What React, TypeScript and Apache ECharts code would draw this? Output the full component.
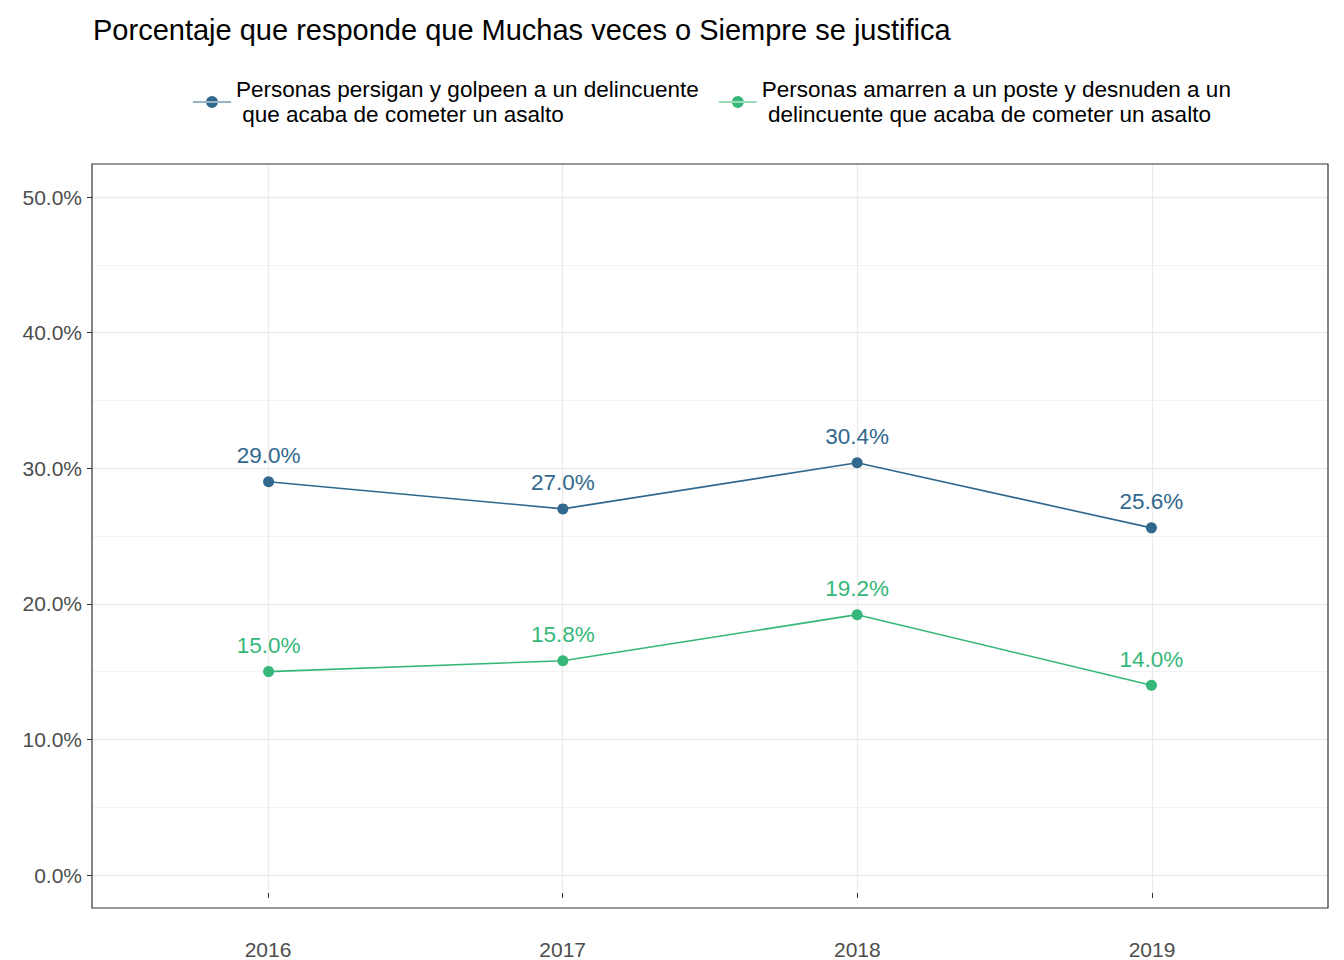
import { useEffect, useRef } from "react";
import * as echarts from "echarts";

const years = [2016, 2017, 2018, 2019];
const golpeen = [29.0, 27.0, 30.4, 25.6];
const amarren = [15.0, 15.8, 19.2, 14.0];
const seriesNames = [
  "Personas persigan y golpeen a un delincuente\n que acaba de cometer un asalto",
  "Personas amarren a un poste y desnuden a un\n delincuente que acaba de cometer un asalto",
];

const BLUE = "#31688e";
const GREEN = "#35b779";
const FONT = "Liberation Sans";
const GRIDLINE = "#ebebeb";

export default function App() {
  const ref = useRef<HTMLDivElement>(null);

  useEffect(() => {
    document.body.style.margin = "0";
    if (!ref.current) return;
    const chart = echarts.init(ref.current, undefined, { renderer: "svg" });

    const mk = (name: string, vals: number[], color: string) => ({
      name,
      type: "line",
      xAxisIndex: 0,
      yAxisIndex: 0,
      data: years.map((y, i) => [y, vals[i]]),
      symbol: "circle",
      symbolSize: 11,
      lineStyle: { color, width: 1.6 },
      itemStyle: { color },
      label: {
        show: true,
        position: "top",
        distance: 9,
        color,
        fontSize: 22.5,
        fontFamily: FONT,
        formatter: (p: { data: number[] }) => p.data[1].toFixed(1) + "%",
      },
      z: 3,
    });

    const hidden = { show: false };

    chart.setOption({
      animation: false,
      textStyle: { fontFamily: FONT },
      title: {
        text: "Porcentaje que responde que Muchas veces o Siempre se justifica",
        left: 88,
        top: 10,
        textStyle: { fontSize: 29, fontWeight: "normal", color: "#000", fontFamily: FONT },
      },
      legend: {
        top: 72,
        left: 188,
        itemWidth: 38,
        itemHeight: 12,
        itemGap: 20,
        textStyle: { fontSize: 22.5, color: "#000", fontFamily: FONT, lineHeight: 25 },
        data: seriesNames.map((n) => ({
          name: n,
          icon: "path://M0,5.4h38v1.2h-38z M13,6a6,6 0 1,0 12,0a6,6 0 1,0 -12,0z",
        })),
      },
      grid: [
        // data grid, with the frame
        { left: 92, right: 16, top: 164, bottom: 52, show: true, borderColor: "#333", borderWidth: 1.2, backgroundColor: "transparent", z: 3 },
        // y-axis grid (0%..50%)
        { left: 92, right: 16, top: 197, bottom: 85 },
        // x-axis grid (2016..2019)
        { left: 268, right: 192, top: 164, bottom: 52 },
      ],
      xAxis: [
        { type: "value", gridIndex: 0, min: 2015.4, max: 2019.6, axisLine: hidden, axisTick: hidden, axisLabel: hidden, splitLine: hidden },
        { type: "value", gridIndex: 1, min: 0, max: 1, axisLine: hidden, axisTick: hidden, axisLabel: hidden, splitLine: hidden },
        {
          type: "value",
          gridIndex: 2,
          min: 2016,
          max: 2019,
          interval: 1,
          axisLine: hidden,
          axisTick: { show: true, length: 5, lineStyle: { color: "#333" } },
          axisLabel: { fontSize: 21, color: "#4d4d4d", margin: 46, formatter: (v: number) => String(v) },
          splitLine: { show: true, lineStyle: { color: GRIDLINE, width: 1.3 } },
        },
      ],
      yAxis: [
        { type: "value", gridIndex: 0, min: -2.43, max: 52.43, axisLine: hidden, axisTick: hidden, axisLabel: hidden, splitLine: hidden },
        {
          type: "value",
          gridIndex: 1,
          min: 0,
          max: 50,
          interval: 10,
          axisLine: hidden,
          axisTick: { show: true, length: 5, lineStyle: { color: "#333" } },
          axisLabel: { fontSize: 21, color: "#4d4d4d", margin: 10, formatter: (v: number) => v.toFixed(1) + "%" },
          splitLine: { show: true, lineStyle: { color: GRIDLINE, width: 1.3 } },
          minorTick: { show: false, splitNumber: 2 },
          minorSplitLine: { show: true, lineStyle: { color: "#f3f3f3", width: 1 } },
        },
        { type: "value", gridIndex: 2, min: 0, max: 1, axisLine: hidden, axisTick: hidden, axisLabel: hidden, splitLine: hidden },
      ],
      series: [mk(seriesNames[0], golpeen, BLUE), mk(seriesNames[1], amarren, GREEN)],
    });

    return () => chart.dispose();
  }, []);

  return <div ref={ref} style={{ width: 1344, height: 960, background: "#fff" }} />;
}
